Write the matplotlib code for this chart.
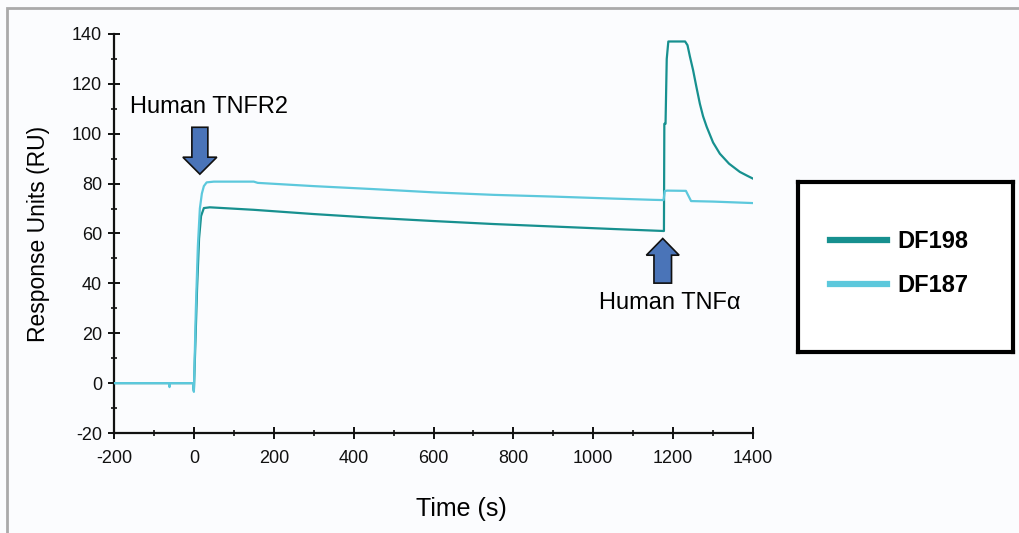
import numpy as np
import matplotlib
matplotlib.use('Agg')
from matplotlib import pyplot as plt
from matplotlib.patches import FancyArrow, Rectangle
from matplotlib.lines import Line2D

plt.rcParams['font.family'] = ['Liberation Sans', 'DejaVu Sans']
plt.rcParams['axes.unicode_minus'] = False

# sensorgram traces (time in s, response in RU)
t_df187 = [-200, -62, -61, -60, -2, 0, 2, 5, 10, 15, 20, 25, 32, 50, 150, 160,
           300, 450, 600, 750, 900, 1050, 1150, 1176, 1179, 1185, 1232, 1245,
           1300, 1400]
v_df187 = [0, 0, -1.6, 0, 0, -3.5, 10, 30, 55, 70, 76, 79, 80.5, 80.8, 80.8, 80.3,
           79, 77.8, 76.5, 75.5, 74.8, 74, 73.5, 73.4, 77, 77.2, 77.1, 73,
           72.8, 72.2]

t_df198 = [-200, -2, 0, 3, 8, 13, 18, 25, 40, 150, 300, 450, 600, 750, 900, 1050,
           1177, 1178, 1181, 1184, 1188, 1230, 1236, 1242, 1250, 1258, 1267, 1275,
           1284, 1300, 1317, 1340, 1367, 1385, 1400]
v_df198 = [0, 0, -3, 12, 38, 58, 67, 70.2, 70.5, 69.5, 67.8, 66.3, 65, 63.8, 62.8, 61.8,
           61, 104, 104, 130, 137, 137, 135.5, 131, 125.5, 119, 112, 107,
           102.8, 96.5, 92, 88, 84.7, 83.2, 82]

series_names = ['DF198', 'DF187']
c198 = '#17908f'
c187 = '#5cc8dc'

xticks = np.arange(-200, 1401, 200)
yticks = np.arange(-20, 141, 20)

W, H = 1019, 533
fig = plt.figure(figsize=(W / 100, H / 100), dpi=100)
fig.patch.set_facecolor('#fbfcfe')

# outer grey frame (right and bottom edges fall outside the picture)
fig.patches.append(Rectangle((7 / W, -0.2), 1.5, 1 - 8 / H + 0.2, transform=fig.transFigure,
                             fill=False, edgecolor='#aaaaaa', lw=2))

ax = fig.add_axes([114 / W, 1 - 433 / H, (753 - 114) / W, (433 - 34) / H])
ax.set_facecolor('none')

ax.plot(t_df198, v_df198, color=c198, lw=1.6, zorder=3)
ax.plot(t_df187, v_df187, color=c187, lw=1.6, zorder=4)

ax.set_xlim(-200, 1400)
ax.set_ylim(-20, 140)
ax.set_xticks(xticks)
ax.set_yticks(yticks)
ax.set_xticks(np.arange(-100, 1400, 200), minor=True)
ax.set_yticks(np.arange(-10, 140, 20), minor=True)
for s in ['top', 'right']:
    ax.spines[s].set_visible(False)
for s in ['left', 'bottom']:
    ax.spines[s].set_linewidth(1.6)
    ax.spines[s].set_color('#111111')
ax.tick_params(which='major', direction='inout', length=9, width=1.4, labelsize=13,
               colors='#111111', pad=4)
ax.tick_params(which='minor', direction='inout', length=5, width=1.2, colors='#111111')
ax.tick_params(axis='x', pad=8)

ax.set_xlabel('Time (s)', fontsize=18, labelpad=18)
ax.xaxis.set_label_coords(0.543, -0.16)
ax.set_ylabel('Response Units (RU)', fontsize=16.5, labelpad=16)

# injection markers
ax.add_patch(FancyArrow(15, 102.6, 0, -18.8, width=40, head_width=85, head_length=6.8,
                        length_includes_head=True, facecolor='#4a74b8',
                        edgecolor='#111111', lw=1.2, zorder=5))
ax.text(39, 110.7, 'Human TNFR2', ha='center', va='center', fontsize=17)

ax.add_patch(FancyArrow(1174, 40.1, 0, 17.9, width=44, head_width=82, head_length=6.7,
                        length_includes_head=True, facecolor='#4a74b8',
                        edgecolor='#111111', lw=1.2, zorder=5))
ax.text(1191, 32, 'Human TNF\u03b1', ha='center', va='center', fontsize=17)

# legend box
lax = fig.add_axes([798 / W, 1 - 352 / H, 215 / W, 170 / H])
lax.set_xticks([])
lax.set_yticks([])
lax.set_facecolor('white')
for s in lax.spines.values():
    s.set_linewidth(3)
    s.set_color('black')
handles = [Line2D([], [], color=c198, lw=4.5), Line2D([], [], color=c187, lw=4.5)]
lax.legend(handles, series_names, loc='center', bbox_to_anchor=(0.47, 0.52),
           frameon=False, prop={'weight': 'bold', 'size': 17},
           handlelength=2.4, handletextpad=0.45, labelspacing=0.9)

fig.savefig('out.png', dpi=100, facecolor=fig.get_facecolor())
